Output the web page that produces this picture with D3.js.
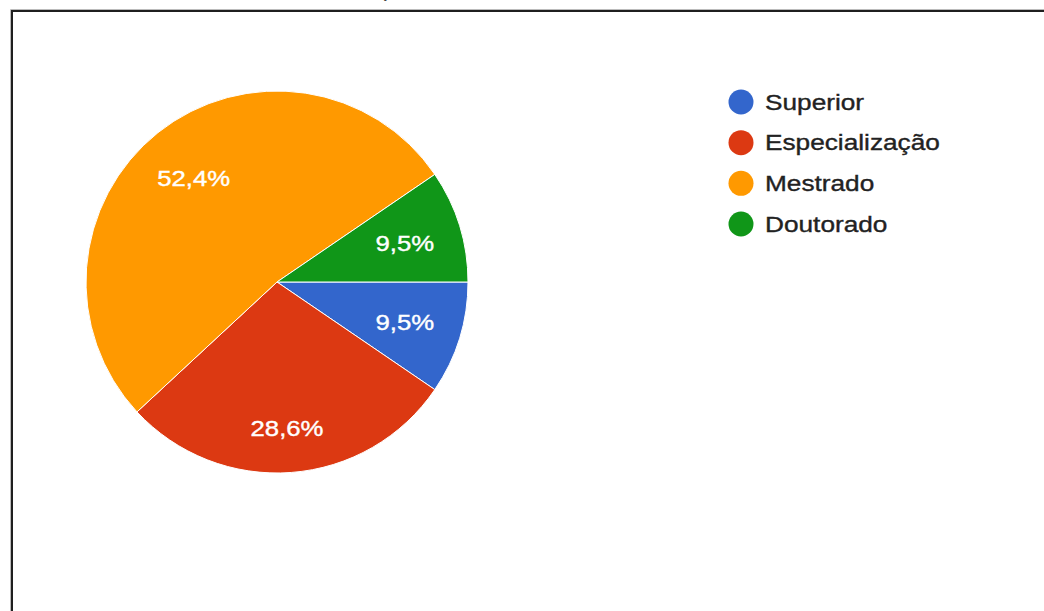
<!DOCTYPE html>
<html>
<head>
<meta charset="utf-8">
<script src="https://cdn.jsdelivr.net/npm/d3@7"></script>
<style>
  html, body { margin: 0; padding: 0; background: #fff; }
  svg { display: block; font-family: Arial, "Liberation Sans", sans-serif; }
</style>
</head>
<body>
<svg id="chart" width="1044" height="611"></svg>
<script>
// Respondents by highest degree
const categories = ["Superior", "Especialização", "Mestrado", "Doutorado"];
const counts = [2, 6, 11, 2];
const colors = ["#3366cc", "#dc3912", "#ff9900", "#109618"];
const title = "Formação";

const svg = d3.select("#chart");
const W = 1044, H = 611;

// Title sits mostly above the visible area
svg.append("text")
  .attr("x", 341).attr("y", -2)
  .attr("font-size", 14)
  .attr("fill", "#222")
  .text(title);

// Frame around the chart area
svg.append("path")
  .attr("d", `M10.5,${H + 2}V9.5H${W + 2}`)
  .attr("fill", "none").attr("stroke", "#bbb").attr("stroke-width", 1);
svg.append("path")
  .attr("d", `M12,${H + 2}V11H${W + 2}`)
  .attr("fill", "none").attr("stroke", "#1f1f1f").attr("stroke-width", 2);

// Pie
const cx = 277, cy = 282, r = 191;
const total = d3.sum(counts);
const data = categories.map((c, i) => ({ name: c, value: counts[i], color: colors[i] }));

const pie = d3.pie()
  .value(d => d.value)
  .sort(null)
  .startAngle(Math.PI / 2)
  .endAngle(Math.PI / 2 + 2 * Math.PI);

const arcs = pie(data);
const arc = d3.arc().innerRadius(0).outerRadius(r);
const labelArc = d3.arc().innerRadius(r * 0.7).outerRadius(r * 0.7);

const g = svg.append("g").attr("transform", `translate(${cx},${cy})`);

g.selectAll("path.slice")
  .data(arcs)
  .join("path")
  .attr("class", "slice")
  .attr("d", arc)
  .attr("fill", d => d.data.color)
  .attr("stroke", "#fff")
  .attr("stroke-width", 1);

const fmt = v => (v / total * 100).toFixed(1).replace(".", ",") + "%";

// Percent labels; lower labels sit slightly further out
g.selectAll("text.pct")
  .data(arcs)
  .join("text")
  .attr("class", "pct")
  .attr("transform", d => {
    const [x, y] = labelArc.centroid(d);
    const shift = y > 100 ? 12 : 0;
    return `translate(${x},${y + shift}) scale(1.12,1)`;
  })
  .attr("text-anchor", "middle")
  .attr("dy", "0.36em")
  .attr("font-size", 23)
  .attr("fill", "#fff")
  .attr("stroke", "#fff")
  .attr("stroke-width", 0.4)
  .text(d => fmt(d.data.value));

// Legend
const legendY = d3.scalePoint()
  .domain(categories)
  .range([102, 224]);

const items = svg.append("g").selectAll("g.item")
  .data(data)
  .join("g")
  .attr("class", "item")
  .attr("transform", d => `translate(741,${legendY(d.name)})`);

items.append("circle")
  .attr("r", 12.5)
  .attr("fill", d => d.color);

items.append("text")
  .attr("transform", "translate(24,7.5) scale(1.22,1)")
  .attr("font-size", 21.5)
  .attr("fill", "#222")
  .attr("stroke", "#222")
  .attr("stroke-width", 0.35)
  .text(d => d.name);
</script>
</body>
</html>
